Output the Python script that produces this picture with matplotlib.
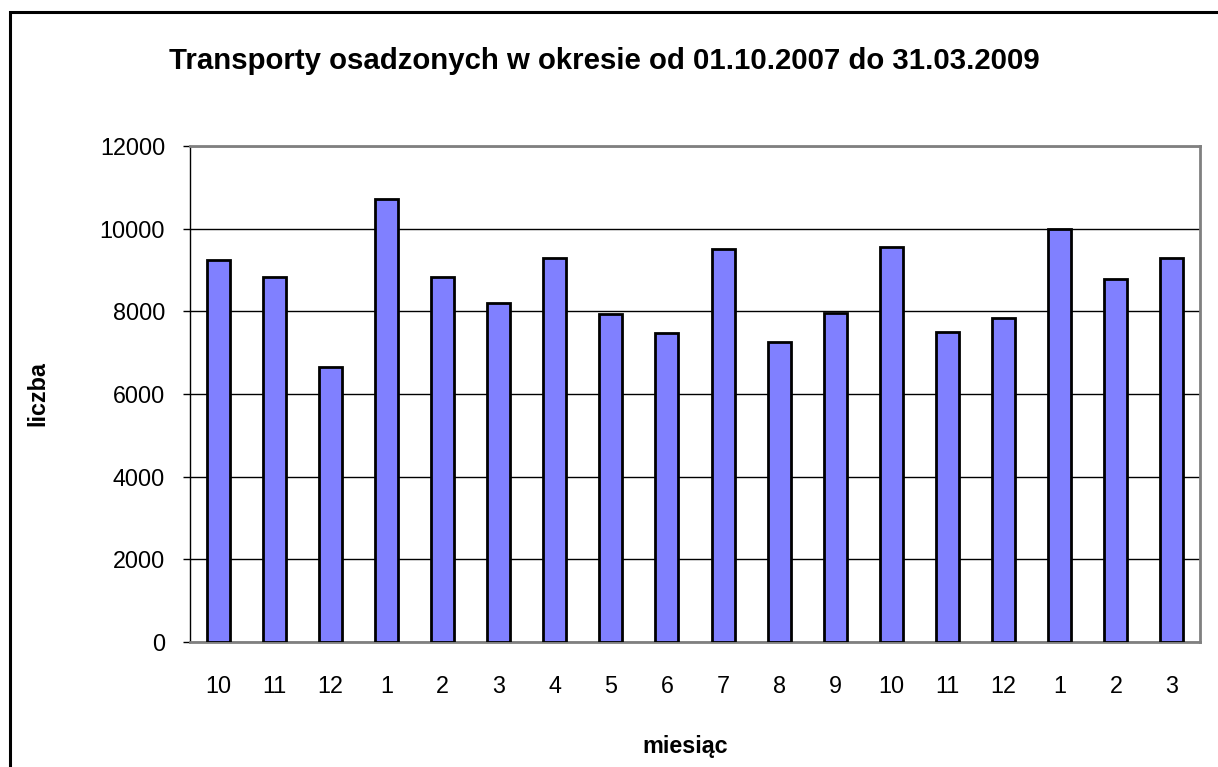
import matplotlib.pyplot as plt
import matplotlib.patches as mpatches
import numpy as np

plt.rcParams['font.family'] = ['Liberation Sans', 'DejaVu Sans']

months = ["10", "11", "12", "1", "2", "3", "4", "5", "6", "7", "8", "9",
          "10", "11", "12", "1", "2", "3"]
counts = [9230, 8840, 6660, 10720, 8830, 8200, 9290, 7930, 7470, 9500,
          7250, 7970, 9550, 7490, 7830, 9990, 8780, 9280]

W, H = 1218, 767
fig = plt.figure(figsize=(W / 100, H / 100), dpi=100)
# plot area in pixels: left 190, right 1200, top 146, bottom 642
ax = fig.add_axes([190 / W, 1 - 642 / H, (1200 - 190) / W, (642 - 146) / H])

x = np.arange(len(months))
ax.bar(x, counts, width=0.41, color="#8080FF", edgecolor="black", linewidth=2.0, zorder=3)

ax.set_xlim(-0.5, len(months) - 0.5)
ax.set_ylim(0, 12000)
ax.set_yticks(np.arange(0, 12001, 2000))
ax.set_xticks(x)
ax.set_xticklabels(months)
ax.yaxis.grid(True, color="black", linewidth=1.0, zorder=0)
ax.tick_params(axis="y", length=5, width=1, color="black", labelsize=16.8, pad=13)
ax.tick_params(axis="x", length=0, labelsize=16.8, pad=24)

for s in ["top", "right", "bottom"]:
    ax.spines[s].set_color("#808080")
    ax.spines[s].set_linewidth(2)
ax.spines["left"].set_color("black")
ax.spines["left"].set_linewidth(1)

fig.text(685 / W, 1 - 746 / H, "miesiąc", ha="center", va="center",
         fontsize=16.8, fontweight="bold")
fig.text(38 / W, 1 - 394 / H, "liczba", ha="center", va="center", rotation=90,
         fontsize=16.8, fontweight="bold")

fig.text(604 / W, 1 - 61 / H, "Transporty osadzonych w okresie od 01.10.2007 do 31.03.2009",
         ha="center", va="center", fontsize=21.2, fontweight="bold")

# outer chart frame
fig.patches.append(mpatches.Rectangle((10 / W, -0.1), 1.2, 1 - 12 / H + 0.1,
                                      transform=fig.transFigure, fill=False,
                                      edgecolor="black", linewidth=2.2))

fig.savefig("out.png", dpi=100)
